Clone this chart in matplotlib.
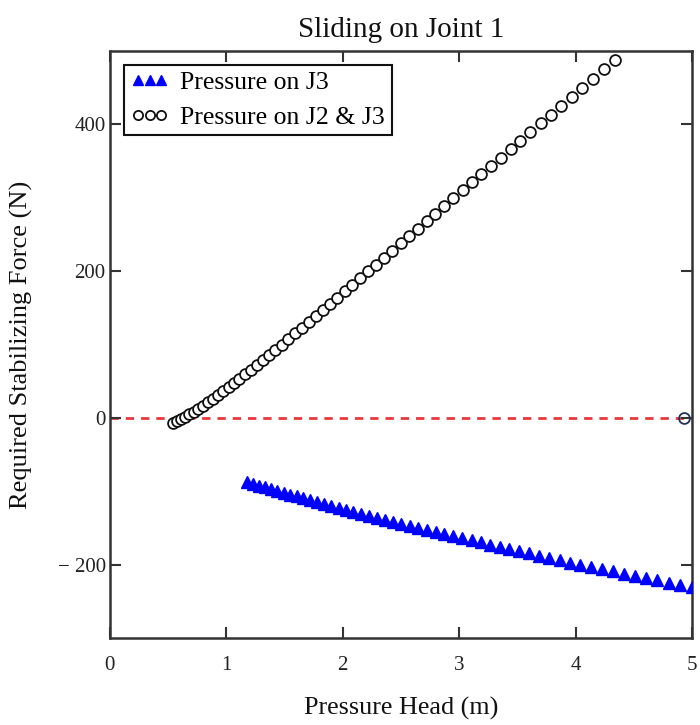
import matplotlib
matplotlib.use("Agg")
import matplotlib.pyplot as plt
from matplotlib.ticker import FixedLocator, FixedFormatter

plt.rcParams['font.family'] = ['Liberation Serif', 'DejaVu Serif']

# ---- data ----
head_j2j3 = [0.540, 0.574, 0.609, 0.646, 0.683, 0.721, 0.761, 0.801, 0.843, 0.885,
             0.929, 0.973, 1.019, 1.065, 1.113, 1.162, 1.212, 1.262, 1.314, 1.367,
             1.421, 1.476, 1.532, 1.589, 1.647, 1.706, 1.767, 1.828, 1.890, 1.953,
             2.018, 2.083, 2.150, 2.217, 2.286, 2.355, 2.426, 2.498, 2.571, 2.645,
             2.720, 2.796, 2.873, 2.951, 3.030, 3.110, 3.191, 3.273, 3.357, 3.441,
             3.526, 3.612, 3.700, 3.788, 3.877, 3.967, 4.059, 4.151, 4.245, 4.340]
force_j2j3 = [-7.0, -4.3, -1.4, 1.6, 4.8, 8.0, 12.2, 16.5, 21.2, 25.9,
              30.9, 36.0, 41.4, 47.1, 53.0, 59.1, 65.3, 71.5, 78.2, 85.3,
              92.5, 99.9, 107.4, 115.1, 122.8, 130.7, 138.9, 147.0, 155.3, 163.7,
              172.4, 181.3, 190.4, 199.5, 208.9, 218.3, 227.9, 237.7, 247.7, 257.7,
              267.9, 278.3, 288.7, 299.3, 310.1, 321.0, 332.0, 343.1, 354.6, 366.0,
              377.5, 389.2, 401.2, 413.2, 425.3, 437.5, 450.0, 462.4, 475.1, 488.0]

head_j3 = [1.180, 1.229, 1.279, 1.332, 1.384, 1.438, 1.492, 1.548, 1.604, 1.662,
           1.720, 1.780, 1.840, 1.902, 1.964, 2.028, 2.092, 2.158, 2.225, 2.293,
           2.361, 2.431, 2.502, 2.575, 2.648, 2.722, 2.797, 2.873, 2.949, 3.027,
           3.106, 3.186, 3.267, 3.349, 3.432, 3.516, 3.601, 3.687, 3.774, 3.862,
           3.951, 4.041, 4.132, 4.224, 4.318, 4.412, 4.507, 4.604, 4.701, 4.800,
           4.899, 5.000]
force_j3 = [-88.0, -90.2, -92.5, -94.8, -97.2, -99.6, -102.0, -104.6, -107.1, -109.7,
            -112.3, -115.0, -117.7, -120.5, -123.3, -126.1, -128.5, -131.0, -133.6, -136.1,
            -138.7, -141.4, -144.1, -146.9, -149.6, -152.4, -155.3, -158.2, -161.1, -164.0,
            -166.8, -169.7, -172.6, -175.6, -178.6, -181.6, -184.6, -187.7, -190.9, -194.0,
            -197.2, -200.3, -203.2, -206.2, -209.2, -212.2, -215.2, -218.3, -221.4, -224.6,
            -227.8, -231.0]

stray_head = [4.93]
stray_force = [0.0]

x_ticks = [0, 1, 2, 3, 4, 5]
x_tick_labels = ["0", "1", "2", "3", "4", "5"]
y_ticks = [-200, 0, 200, 400]
y_tick_labels = ["\u2212 200", "0", "200", "400"]

fig = plt.figure(figsize=(7.0, 7.25), dpi=100)
ax = fig.add_axes([0.157, 0.12, 0.8316, 0.8097])

ax.axhline(0, color='#e8383d', lw=2.0, ls=(0, (3, 2.5)), zorder=1)

ax.plot(head_j3, force_j3, ls='none', marker='^', ms=9, color='#0000ff',
        mec='#0000ff', label='Pressure on J3', zorder=3)
ax.plot(head_j2j3, force_j2j3, ls='none', marker='o', ms=7.8, mfc='white',
        mec='#111111', mew=1.3, label='Pressure on J2 & J3', zorder=3)
ax.plot(stray_head, stray_force, ls='none', marker='o', ms=7.8, mfc='none',
        mec='#223355', mew=1.3, zorder=3)

ax.set_xlim(0, 5)
ax.set_ylim(-300, 500)
ax.xaxis.set_major_locator(FixedLocator(x_ticks))
ax.xaxis.set_major_formatter(FixedFormatter(x_tick_labels))
ax.yaxis.set_major_locator(FixedLocator(y_ticks))
ax.yaxis.set_major_formatter(FixedFormatter(y_tick_labels))

ax.tick_params(direction='in', length=8, width=1.5, color='#333333',
               top=True, right=True, labelsize=15, labelcolor='#222222')
ax.tick_params(axis='x', pad=13)
ax.tick_params(axis='y', pad=3)

for s in ax.spines.values():
    s.set_linewidth(1.8)
    s.set_color('#333333')

ax.set_title('Sliding on Joint 1', fontsize=21, pad=10, color='#111111')
ax.set_xlabel('Pressure Head (m)', fontsize=18.8, labelpad=16, color='#111111')
ax.set_ylabel('Required Stabilizing Force (N)', fontsize=19, labelpad=18, color='#111111')

leg = ax.legend(loc='upper left', bbox_to_anchor=(0.024, 0.976), borderaxespad=0,
                fontsize=18.5, numpoints=3, handlelength=1.5, handletextpad=0.45,
                fancybox=False, framealpha=1, edgecolor='#111111',
                borderpad=0.25, labelspacing=0.45, markerscale=0.85)
leg.get_frame().set_linewidth(1.5)

fig.savefig('out.png', dpi=100)
